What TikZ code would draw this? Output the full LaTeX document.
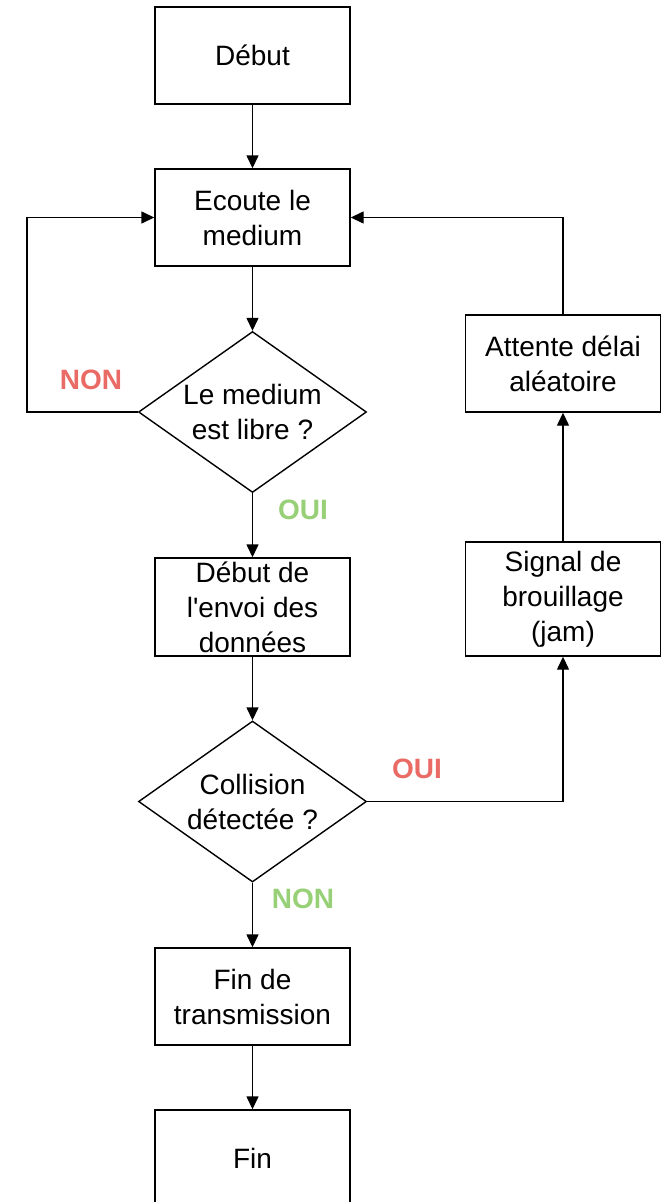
\documentclass[tikz,border=0pt]{standalone}
\usepackage{fontspec}
\setmainfont{Liberation Sans}
\usetikzlibrary{shapes.geometric,arrows.meta}
\definecolor{nred}{HTML}{EA6B66}
\definecolor{ngreen}{HTML}{97D077}
\begin{document}
\begin{tikzpicture}[x=1pt,y=1pt,
  every node/.style={font=\fontsize{28}{35}\selectfont},
  box/.style={draw,line width=1.4pt,minimum width=195pt,inner sep=0pt,align=center},
  dia/.style={draw,diamond,line width=1.4pt,minimum width=228pt,minimum height=161pt,inner sep=0pt},
  txt/.style={align=center,inner sep=0pt},
  arr/.style={line width=1.4pt,-{Triangle[length=13pt,width=12pt]}},
  lab/.style={font=\fontsize{28}{35}\selectfont\bfseries,inner sep=0pt}]
\useasboundingbox (0,0) rectangle (664,-1202);
\node[box,minimum height=97pt] (debut) at (252.5,-55.5) {Début};
\node[box,minimum height=97pt] (ecoute) at (252.5,-217.5) {Ecoute le\\medium};
\node[dia] (d1) at (252.5,-412) {};
\node[txt] (d1t) at (d1) {Le medium\\est libre ?};
\node[box,minimum height=98pt] (envoi) at (252.5,-607) {Début de\\l\textquotesingle envoi des\\données};
\node[dia] (d2) at (252.5,-801.5) {};
\node[txt] (d2t) at (d2) {Collision\\détectée ?};
\node[box,minimum height=97pt] (fintr) at (252.5,-996.5) {Fin de\\transmission};
\node[box,minimum height=97pt] (fin) at (252.5,-1158.5) {Fin};
\node[box,minimum height=97pt] (attente) at (563,-363.5) {Attente délai\\aléatoire};
\node[box,minimum height=114pt] (signal) at (563,-599) {Signal de\\brouillage\\(jam)};
\coordinate (L) at (27,0);
\draw[arr] (debut.south) -- (ecoute.north);
\draw[arr] (ecoute.south) -- (d1.north);
\draw[arr] (d1.south) -- (envoi.north);
\draw[arr] (envoi.south) -- (d2.north);
\draw[arr] (d2.south) -- (fintr.north);
\draw[arr] (fintr.south) -- (fin.north);
\draw[arr] (d1.west) -| (L |- ecoute.west) -- (ecoute.west);
\draw[arr] (d2.east) -| (signal.south);
\draw[arr] (signal.north) -- (attente.south);
\draw[arr] (attente.north) |- (ecoute.east);
\node[lab,text=nred] (non1) at (91,-380) {NON};
\node[lab,text=ngreen] (oui1) at (303,-510) {OUI};
\node[lab,text=nred] (oui2) at (417,-769) {OUI};
\node[lab,text=ngreen] (non2) at (303,-899) {NON};
\end{tikzpicture}
\end{document}
